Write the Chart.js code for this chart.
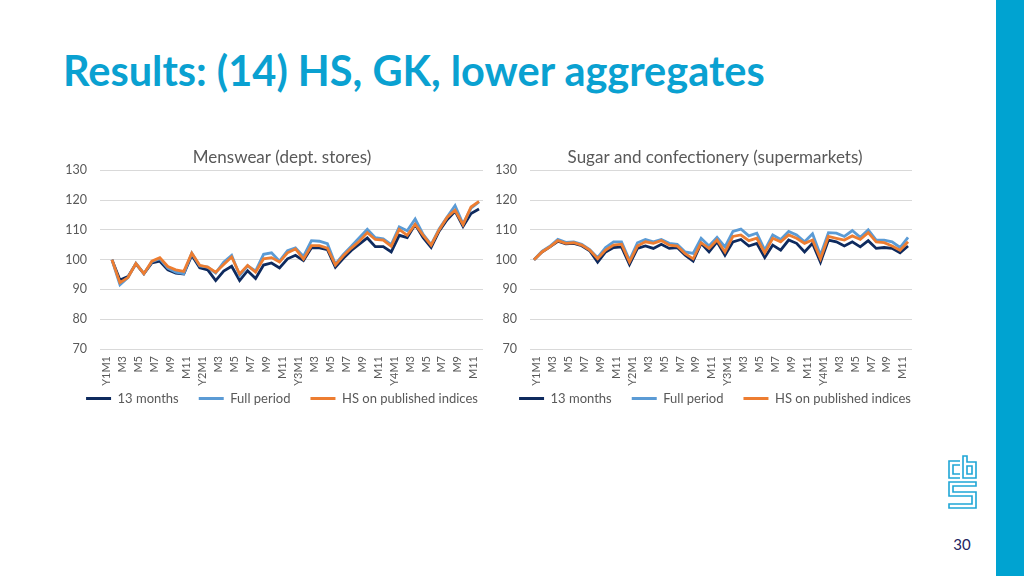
<!DOCTYPE html>
<html>
<head>
<meta charset="utf-8">
<script src="https://cdn.jsdelivr.net/npm/chart.js@4/dist/chart.umd.min.js"></script>
<style>
  body { margin: 0; width: 1024px; height: 576px; background: #fff; overflow: hidden; position: relative; font-family: Lato, sans-serif; }
  #title { position: absolute; left: 63px; top: 45px; font: bold 41.5px Lato, sans-serif; color: #0aa1d1; white-space: nowrap; }
  #bar { position: absolute; left: 996px; top: 0; width: 28px; height: 576px; background: #00a3d1; }
  #page { position: absolute; left: 940px; width: 44px; top: 535px; text-align: center; font: 15px Lato, sans-serif; color: #23235e; }
  #logo { position: absolute; left: 944px; top: 452px; }
  .box { position: absolute; top: 140px; height: 275px; }
</style>
</head>
<body>
<div id="title">Results: (14) HS, GK, lower aggregates</div>
<div id="bar"></div>
<svg id="logo" width="36" height="60" viewBox="944 452 36 60" fill="none" stroke="#1fa6d6" stroke-width="1.6">
  <path d="M960 461 H949 V478 H960 M960 465 H953 V474 H960"/>
  <path d="M963 456 V478 H976 V462 H967 V456 Z M967 466 H972 V474 H967 Z"/>
  <path d="M976 482 H949 V496 H972 V504 H949 V508 H976 V492 H953 V486 H976 Z"/>
</svg>
<div id="page">30</div>
<div class="box" style="left:50px;width:456px"><canvas id="left"></canvas></div>
<div class="box" style="left:490px;width:450px"><canvas id="right"></canvas></div>
<script>
const months = ['Y1M1','M2','M3','M4','M5','M6','M7','M8','M9','M10','M11','M12',
  'Y2M1','M2','M3','M4','M5','M6','M7','M8','M9','M10','M11','M12',
  'Y3M1','M2','M3','M4','M5','M6','M7','M8','M9','M10','M11','M12',
  'Y4M1','M2','M3','M4','M5','M6','M7','M8','M9','M10','M11','M12'];
const seriesNames = ['13 months', 'Full period', 'HS on published indices'];
const seriesColors = ['#0e2a5e', '#5b9bd5', '#ed7d31'];

// Menswear (dept. stores)
const menswear13 = [null,100,93.2,94.3,98.6,95.3,98.9,99.5,96.6,95.5,95.2,101.5,97.3,96.6,93.0,96.2,97.8,93.0,96.3,93.7,98.2,98.9,97.2,100.3,
  101.5,99.7,104.0,104.0,103.4,97.5,100.5,103.1,105.2,107.3,104.4,104.4,102.6,108.2,107.4,111.8,107.4,104.1,109.6,113.4,116.3,111.2,115.5,117.0];
const menswearFull = [null,100,91.6,94.0,98.8,95.3,99.3,100.3,97.2,95.8,95.3,102.2,97.9,97.5,95.5,99.2,101.5,94.7,97.9,96.2,101.8,102.3,99.5,103.0,
  104.0,101.1,106.4,106.2,105.4,98.5,101.8,104.5,107.4,110.2,107.4,107.0,105.1,111.0,109.7,113.7,108.5,105.1,110.3,114.3,118.2,112.0,117.3,119.4];
const menswearHS = [null,100,92.3,94.0,98.7,95.3,99.5,100.7,97.7,96.6,96.1,102.2,98.1,97.5,95.8,98.4,100.9,95.2,98.1,95.8,100.3,100.7,99.2,102.3,
  103.6,100.2,104.7,104.7,103.9,98.2,101.3,103.9,106.2,109.1,106.8,106.6,104.5,110.2,108.2,111.9,108.2,104.9,110.0,114.2,116.6,111.8,117.7,119.6];

// Sugar and confectionery (supermarkets)
const sugar13 = [100,102.6,104.3,106.2,105.3,105.5,104.7,103,99.2,102.6,104.1,104.3,98.4,103.8,104.6,103.8,105.2,103.8,104.1,101.5,99.5,105.5,102.6,106,
  101.5,106,106.8,104.6,105.5,100.7,104.9,103.2,106.6,105.5,102.6,105.5,99.2,106.6,106,104.6,106,104.3,106.4,103.8,104.1,103.8,102.3,104.6];
const sugarFull = [100,102.8,104.5,106.8,105.8,106,105.2,103.4,100.7,104.1,106,106,99.8,105.7,106.8,106,106.8,105.5,105.2,102.6,102.1,107.2,104.6,107.5,
  104.3,109.5,110.3,108,108.9,103.2,108.3,106.8,109.5,108.3,106,108.7,101.5,109.1,108.9,107.8,109.8,107.5,110,106.6,106.6,106,104.1,107.5];
const sugarHS = [100,102.6,104.3,106.4,105.5,105.7,104.9,103.2,100.3,103.2,104.9,105.2,99.2,104.6,106,105.5,106.4,104.9,104.6,102,100.3,105.7,103.8,106.6,
  102.6,107.8,108.3,106.4,107.2,102.3,107.2,106,108.3,107.2,105.5,106.6,100.3,107.8,107.2,106.6,108,106.8,109.1,106,105.7,104.6,103.2,106];

const yTicks = [70, 80, 90, 100, 110, 120, 130];

// axisW / sideW: widths of left axis and an empty right axis, so title and legend centre like the original
function makeChart(id, title, series, padLeft, padRight, axisW, sideW) {
  const datasets = series.map((data, i) => ({
    label: seriesNames[i],
    data: data,
    borderColor: seriesColors[i],
    backgroundColor: seriesColors[i],
    borderWidth: 2.8,
    pointRadius: 0,
    tension: 0,
    order: 3 - i
  }));
  return new Chart(document.getElementById(id), {
    type: 'line',
    data: { labels: months, datasets: datasets },
    options: {
      responsive: true,
      maintainAspectRatio: false,
      animation: false,
      layout: { padding: { left: padLeft, right: padRight, top: 0, bottom: 0 } },
      plugins: {
        title: {
          display: true, text: title, color: '#595959',
          font: { family: 'Lato', size: 17, weight: 'normal' },
          padding: { top: 7, bottom: 3 }
        },
        legend: {
          position: 'bottom',
          labels: {
            color: '#595959', font: { family: 'Lato', size: 13 },
            boxWidth: 25, boxHeight: 3, padding: 20,
            sort: (a, b) => a.datasetIndex - b.datasetIndex,
            generateLabels: chart => Chart.defaults.plugins.legend.labels.generateLabels(chart)
              .map(l => Object.assign(l, { lineWidth: 0 }))
          }
        },
        tooltip: { enabled: false }
      },
      scales: {
        x: {
          offset: true,
          grid: { display: false, drawTicks: false },
          border: { display: false },
          afterFit: s => { s.height = 23; },
          ticks: {
            autoSkip: false, minRotation: 90, maxRotation: 90, mirror: true, padding: -7, labelOffset: 16,
            color: '#595959', font: { family: 'Lato', size: 11 },
            callback: function (v, i) { return i % 2 === 0 ? this.getLabelForValue(v) : ''; }
          }
        },
        y: {
          min: 70, max: 130,
          afterBuildTicks: s => { s.ticks = yTicks.map(v => ({ value: v })); },
          afterFit: s => { s.width = axisW; },
          grid: { color: '#d9d9d9', drawTicks: false },
          border: { display: false },
          ticks: { padding: 13, color: '#595959', font: { family: 'Lato', size: 12.5 } }
        },
        side: {
          position: 'right', min: 70, max: 130,
          afterFit: s => { s.width = sideW; },
          grid: { display: false, drawTicks: false },
          border: { display: false },
          ticks: { display: false }
        }
      }
    }
  });
}

makeChart('left', 'Menswear (dept. stores)', [menswear13, menswearFull, menswearHS], 10, 2, 40, 21);
makeChart('right', 'Sugar and confectionery (supermarkets)', [sugar13, sugarFull, sugarHS], 3, 3, 37, 25);
</script>
</body>
</html>
